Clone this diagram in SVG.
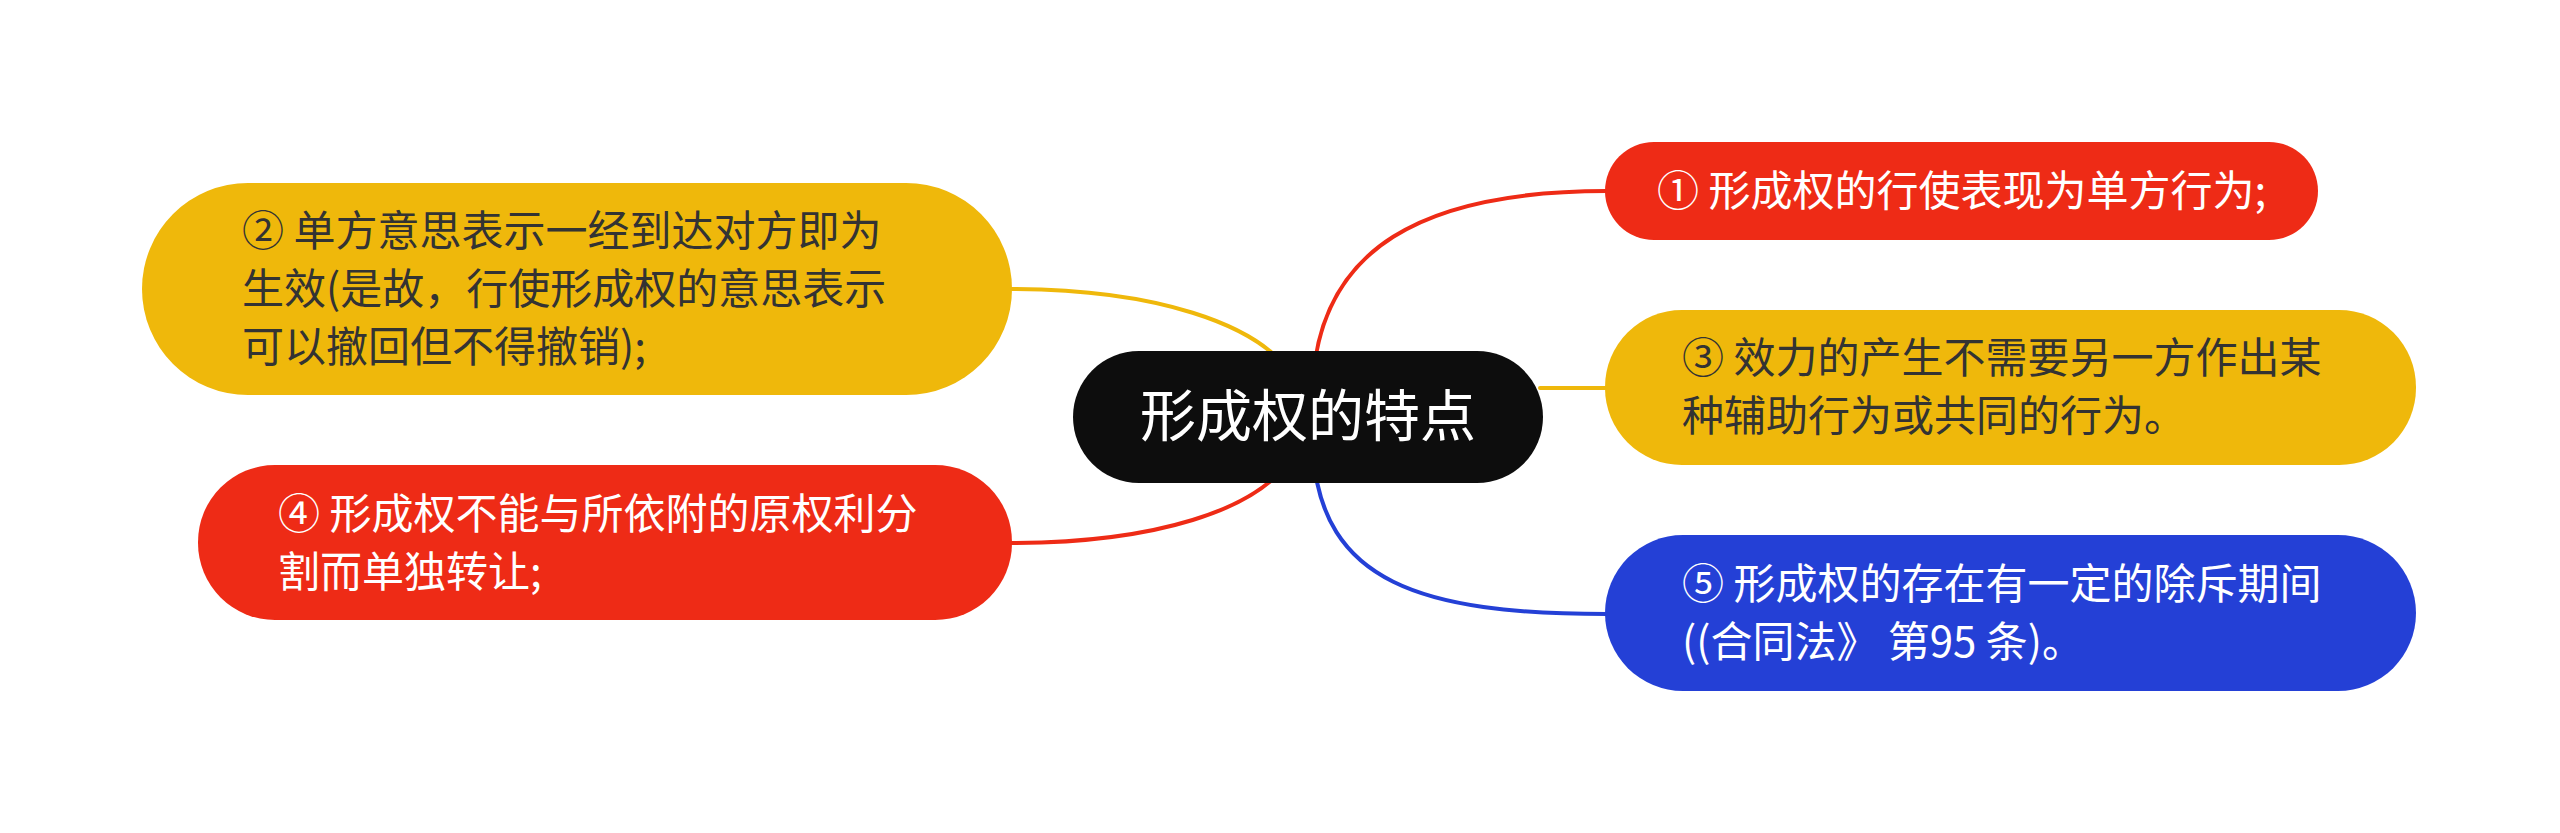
<svg xmlns="http://www.w3.org/2000/svg" width="2560" height="833" viewBox="0 0 2560 833">
<style>
.t{font-family:"Noto Sans CJK SC","Noto Sans",sans-serif;font-size:42px}
.w{fill:#ffffff}
.d{fill:#333333}
.c{fill:none;stroke-width:4;stroke-linecap:round}
</style>
<rect width="2560" height="833" fill="#ffffff"/>
<g id="connectors">
<path class="c" stroke="#EE2B16" d="M1313,380 C1322,250 1420,191 1607,191"/>
<path class="c" stroke="#EFB80B" d="M1540,388 L1607,388"/>
<path class="c" stroke="#2440D6" d="M1313,452 C1322,582 1420,614 1607,614"/>
<path class="c" stroke="#EFB80B" d="M1295,380 C1262,322 1150,289 1010,289"/>
<path class="c" stroke="#EE2B16" d="M1295,452 C1262,512 1150,543 1010,543"/>
</g>
<g id="center">
<rect x="1073" y="351" width="470" height="132" rx="66" fill="#0D0D0D"/>
<text x="1308" y="436" text-anchor="middle" class="w" style="font-family:'Noto Sans CJK SC','Noto Sans',sans-serif;font-size:56px">形成权的特点</text>
</g>
<g id="node1">
<rect x="1605" y="142" width="713" height="98" rx="49" fill="#EE2B16"/>
<text x="1657" y="206" class="t w">① 形成权的行使表现为单方行为;</text>
</g>
<g id="node3">
<rect x="1605" y="310" width="811" height="155" rx="77" fill="#EFB80B"/>
<text class="t d"><tspan x="1682" y="373">③ 效力的产生不需要另一方作出某</tspan><tspan x="1682" y="431">种辅助行为或共同的行为。</tspan></text>
</g>
<g id="node5">
<rect x="1605" y="535" width="811" height="156" rx="78" fill="#2440D6"/>
<text class="t w"><tspan x="1682" y="599">⑤ 形成权的存在有一定的除斥期间</tspan><tspan x="1682" y="657">((合同法》 第95 条)。</tspan></text>
</g>
<g id="node2">
<rect x="142" y="183" width="870" height="212" rx="106" fill="#EFB80B"/>
<text class="t d"><tspan x="242" y="246">② 单方意思表示一经到达对方即为</tspan><tspan x="242" y="304">生效(是故，行使形成权的意思表示</tspan><tspan x="242" y="362">可以撤回但不得撤销);</tspan></text>
</g>
<g id="node4">
<rect x="198" y="465" width="814" height="155" rx="77" fill="#EE2B16"/>
<text class="t w"><tspan x="278" y="529">④ 形成权不能与所依附的原权利分</tspan><tspan x="278" y="587">割而单独转让;</tspan></text>
</g>
</svg>
